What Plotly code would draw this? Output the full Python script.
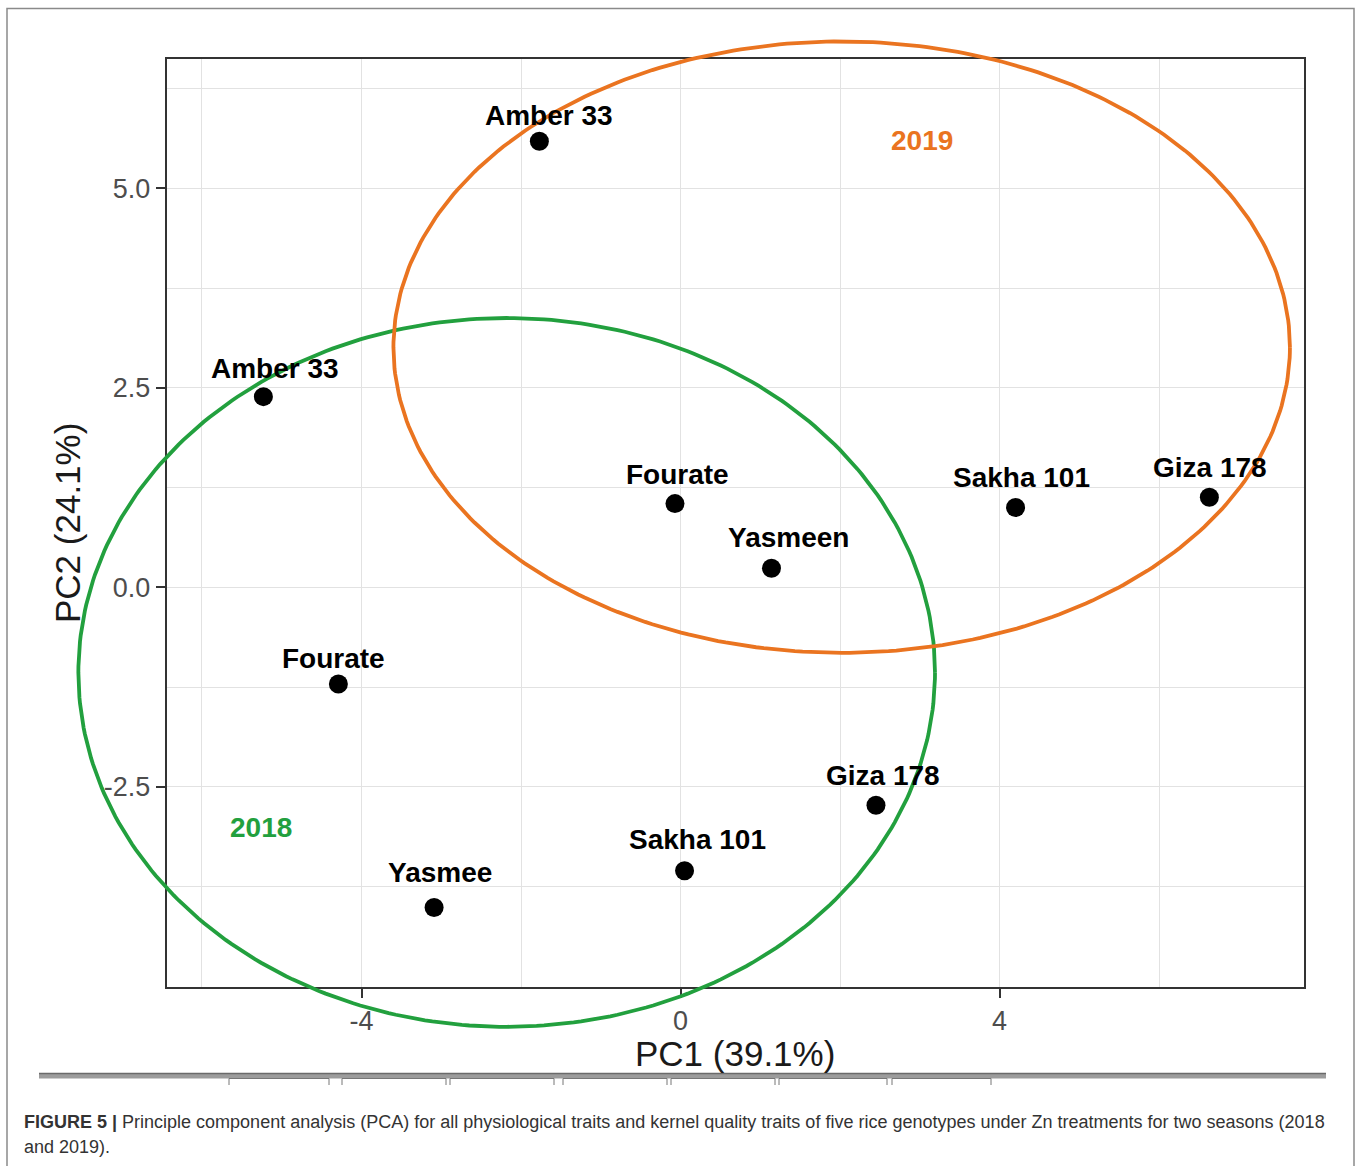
import numpy as np
import plotly.graph_objects as go

W, H = 1358, 1166

# ---- PCA scores (PC1, PC2) of the five genotypes in each season ----
genotypes_2018 = ["Amber 33", "Fourate", "Yasmee", "Sakha 101", "Giza 178"]
pc1_2018 = [-5.23, -4.29, -3.09, 0.05, 2.45]
pc2_2018 = [2.39, -1.21, -4.01, -3.55, -2.73]

genotypes_2019 = ["Amber 33", "Fourate", "Yasmeen", "Sakha 101", "Giza 178"]
pc1_2019 = [-1.77, -0.07, 1.14, 4.20, 6.63]
pc2_2019 = [5.59, 1.05, 0.24, 1.00, 1.13]

# ---- season ellipses (centre and semi-axes in PC units) ----
seasons = ["2018", "2019"]
season_colors = ["#22A03E", "#EA7420"]
ellipse_pc1 = [-2.18, 2.02]
ellipse_pc2 = [-1.065, 3.01]
ellipse_r1 = [5.37, 5.62]
ellipse_r2 = [4.44, 3.83]
season_label_pc1 = [-5.26, 3.03]
season_label_pc2 = [-3.01, 5.60]

# ---- axes ----
x_range = [-6.445, 7.81]
y_range = [-5.006, 6.62]
x_tick_vals = [-4, 0, 4]
x_tick_text = ["-4", "0", "4"]
y_tick_vals = [-2.5, 0.0, 2.5, 5.0]
y_tick_text = ["-2.5", "0.0", "2.5", "5.0"]
x_title = "PC1 (39.1%)"
y_title = "PC2 (24.1%)"

caption_head = "FIGURE 5 |"
caption_line1 = (" Principle component analysis (PCA) for all physiological traits and kernel "
                 "quality traits of five rice genotypes under Zn treatments for two seasons (2018")
caption_line2 = "and 2019)."

# label nudges (pixels) so the names sit just above their points
nudge_2018 = [(12, 28), (-5, 26), (6, 35), (13, 31), (7, 30)]
nudge_2019 = [(10, 26), (3, 29), (17, 31), (6, 30), (1, 30)]

# panel placement (figure uses zero margins so paper == figure)
x_dom = [166.5 / W, 1303.5 / W]
y_dom = [1 - 987 / H, 1 - 59 / H]


def full_range(r, d):
    span = (r[1] - r[0]) / (d[1] - d[0])
    return [r[0] - d[0] * span, r[1] + (1 - d[1]) * span]


FONT = "Liberation Sans, Arial, sans-serif"

fig = go.Figure()

# points
for xs, ys in ((pc1_2018, pc2_2018), (pc1_2019, pc2_2019)):
    fig.add_trace(go.Scatter(
        x=xs, y=ys, mode="markers",
        marker=dict(size=19, color="black"),
        showlegend=False, hoverinfo="skip", xaxis="x", yaxis="y"))

# ellipses on a full-figure overlay so they may run past the panel
t = np.linspace(0, 2 * np.pi, 361)
for cx, cy, a, b, col in zip(ellipse_pc1, ellipse_pc2, ellipse_r1, ellipse_r2, season_colors):
    fig.add_trace(go.Scatter(
        x=cx + a * np.cos(t), y=cy + b * np.sin(t), mode="lines",
        line=dict(color=col, width=3.8),
        showlegend=False, hoverinfo="skip", xaxis="x2", yaxis="y2"))

annotations = []
for names, xs, ys, nudges in ((genotypes_2018, pc1_2018, pc2_2018, nudge_2018),
                              (genotypes_2019, pc1_2019, pc2_2019, nudge_2019)):
    for n, xv, yv, (dx, dy) in zip(names, xs, ys, nudges):
        annotations.append(dict(
            x=xv, y=yv, xref="x", yref="y", text=f"<b>{n}</b>", showarrow=False,
            xanchor="center", yanchor="middle",
            xshift=dx, yshift=dy, font=dict(family=FONT, size=28, color="black")))

for s, xv, yv, col in zip(seasons, season_label_pc1, season_label_pc2, season_colors):
    annotations.append(dict(
        x=xv, y=yv, xref="x", yref="y", text=f"<b>{s}</b>", showarrow=False,
        xanchor="center", yanchor="middle",
        font=dict(family=FONT, size=28, color=col)))

# axis titles
annotations.append(dict(x=735 / W, y=1 - 1053 / H, xref="paper", yref="paper",
                        xanchor="center", yanchor="middle",
                        text=x_title, showarrow=False,
                        font=dict(family=FONT, size=35, color="#1a1a1a")))
annotations.append(dict(x=67 / W, y=1 - 523 / H, xref="paper", yref="paper",
                        xanchor="center", yanchor="middle",
                        text=y_title, showarrow=False, textangle=-90,
                        font=dict(family=FONT, size=35, color="#1a1a1a")))

# caption
annotations.append(dict(x=22 / W, y=1 - 1122 / H, xref="paper", yref="paper",
                        xanchor="left", yanchor="middle", showarrow=False,
                        text=f"<b>{caption_head}</b>{caption_line1}",
                        font=dict(family=FONT, size=18, color="#333333")))
annotations.append(dict(x=22 / W, y=1 - 1147 / H, xref="paper", yref="paper",
                        xanchor="left", yanchor="middle", showarrow=False,
                        text=caption_line2,
                        font=dict(family=FONT, size=18, color="#333333")))

shapes = []
# outer frame of the figure panel
shapes.append(dict(type="rect", xref="paper", yref="paper",
                   x0=7 / W, x1=1354 / W, y0=-0.02, y1=1 - 8.5 / H,
                   line=dict(color="#8a8a8a", width=1.5), fillcolor="rgba(0,0,0,0)"))
# separator bar under the chart
shapes.append(dict(type="rect", xref="paper", yref="paper",
                   x0=39 / W, x1=1326 / W, y0=1 - 1078.5 / H, y1=1 - 1073 / H,
                   line=dict(width=0), fillcolor="#9c9c9c"))
shapes.append(dict(type="line", xref="paper", yref="paper",
                   x0=39 / W, x1=1326 / W, y0=1 - 1073.5 / H, y1=1 - 1073.5 / H,
                   line=dict(color="#6a6a6a", width=1.5)))
for a, b in [(229, 329), (342, 446), (450, 554), (563, 667), (671, 775), (779, 887), (892, 991)]:
    x0, x1 = a / W, b / W
    y0, y1 = 1 - 1078.5 / H, 1 - 1085 / H
    shapes.append(dict(type="path", xref="paper", yref="paper",
                       path=f"M {x0},{y1} L {x0},{y0} L {x1},{y0} L {x1},{y1}",
                       line=dict(color="#777777", width=1)))

grid_col = "#E2E2E2"
fig.update_layout(
    width=W, height=H,
    margin=dict(l=0, r=0, t=0, b=0),
    paper_bgcolor="white", plot_bgcolor="rgba(0,0,0,0)",
    showlegend=False,
    xaxis=dict(domain=x_dom, range=x_range, tickmode="array",
               tickvals=x_tick_vals, ticktext=x_tick_text,
               showgrid=True, gridcolor=grid_col, gridwidth=1.4,
               minor=dict(tickmode="linear", tick0=0, dtick=2, showgrid=True,
                          gridcolor=grid_col, gridwidth=1.4, ticks=""),
               zeroline=False, showline=True, mirror=True,
               linecolor="#333333", linewidth=1.5,
               ticks="outside", ticklen=9, tickwidth=1.5, tickcolor="#333333",
               tickfont=dict(family=FONT, size=27, color="#4D4D4D"),
               anchor="y", fixedrange=True),
    yaxis=dict(domain=y_dom, range=y_range, tickmode="array",
               tickvals=y_tick_vals, ticktext=y_tick_text,
               showgrid=True, gridcolor=grid_col, gridwidth=1.4,
               minor=dict(tickmode="linear", tick0=0, dtick=1.25, showgrid=True,
                          gridcolor=grid_col, gridwidth=1.4, ticks=""),
               zeroline=False, showline=True, mirror=True,
               linecolor="#333333", linewidth=1.5,
               ticks="outside", ticklen=9, tickwidth=1.5, tickcolor="#333333",
               tickfont=dict(family=FONT, size=27, color="#4D4D4D"),
               anchor="x", fixedrange=True),
    xaxis2=dict(domain=[0, 1], range=full_range(x_range, x_dom), visible=False,
                anchor="y2", fixedrange=True),
    yaxis2=dict(domain=[0, 1], range=full_range(y_range, y_dom), visible=False,
                anchor="x2", fixedrange=True),
    annotations=annotations,
    shapes=shapes,
)

fig.write_html("out.html")
